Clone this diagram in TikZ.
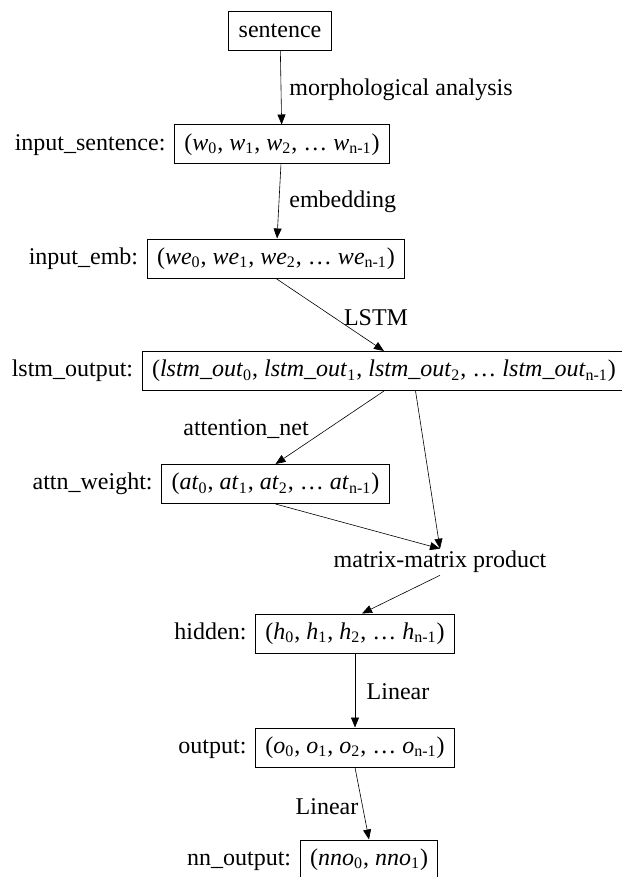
\documentclass[tikz,border=0pt]{standalone}
\usepackage{fontspec}
\setmainfont{Liberation Serif}
\usetikzlibrary{positioning,arrows.meta,calc}

\newcommand{\vseq}[1]{(\textit{#1}\textsubscript{0}, \textit{#1}\textsubscript{1}, \textit{#1}\textsubscript{2}, \dots\ \textit{#1}\textsubscript{n-1})}

\tikzset{
	vbox/.style={draw, line width=0.5pt, minimum height=19.5pt, inner xsep=5pt},
	vname/.style={inner sep=0pt},
	flow/.style={line width=0.3pt, -{Triangle[length=5pt,width=4pt]}}
}

\begin{document}
\begin{tikzpicture}[x=0.5pt, y=-0.5pt, font=\fontsize{12}{14}\selectfont]
\useasboundingbox (0,0) rectangle (621,877);

\node[vbox] (sent) at (280,31) {sentence};
\node[vbox] (isent) at (282,144.5) {\vseq{w}};
\node[vbox] (iemb) at (276,258.5) {\vseq{we}};
\node[vbox] (lstm) at (384,371) {\vseq{lstm\_out}};
\node[vbox] (attn) at (275.5,484) {\vseq{at}};
\node[inner sep=1pt] (mmp) at (440,562) {matrix-matrix product};
\node[vbox] (hid) at (355,633.5) {\vseq{h}};
\node[vbox] (out) at (355,747.5) {\vseq{o}};
\node[vbox] (nno) at (369,859.5) {(\textit{nno}\textsubscript{0}, \textit{nno}\textsubscript{1})};

\node[vname, base left=4pt of isent] (isentl) {input\_sentence:};
\node[vname, base left=4pt of iemb] (iembl) {input\_emb:};
\node[vname, base left=4pt of lstm] (lstml) {lstm\_output:};
\node[vname, base left=4pt of attn] (attnl) {attn\_weight:};
\node[vname, base left=4pt of hid] (hidl) {hidden:};
\node[vname, base left=4pt of out] (outl) {output:};
\node[vname, base left=4pt of nno] (nnol) {nn\_output:};

\coordinate (lstmb) at ($(lstm.south west)!0.565!(lstm.south east)$);
\coordinate (hidt) at ($(hid.north)+(7,0)$);

\draw[flow] (sent) -- (isent);
\draw[flow] (isent) -- (iemb);
\draw[flow] (iemb.south) -- (lstm.north);
\draw[flow] (lstm.south) -- (attn.north);
\draw[flow] (lstmb) -- (mmp.north);
\draw[flow] (attn.south) -- (mmp.north);
\draw[flow] (mmp.south) -- (hidt);
\draw[flow] (hid) -- (out);
\draw[flow] (out.south) -- (nno.north);

\node[vname, anchor=west] (lmorph) at (289,90) {morphological analysis};
\node[vname, anchor=west] (lemb) at (289,202) {embedding};
\node[vname] (llstm) at (376,318) {LSTM};
\node[vname] (lattn) at (246,429) {attention\_net};
\node[vname] (llin) at (398,692) {Linear};
\node[vname] (llinb) at (327,807) {Linear};
\end{tikzpicture}
\end{document}
